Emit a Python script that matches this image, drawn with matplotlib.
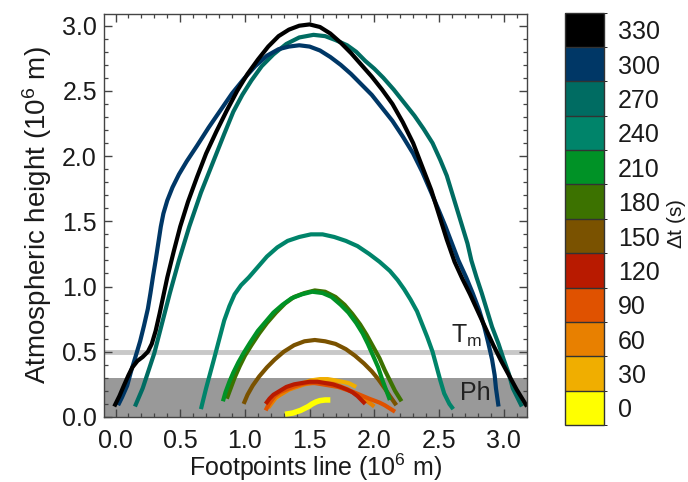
import numpy as np
import matplotlib
matplotlib.use("Agg")
import matplotlib.pyplot as plt
from matplotlib.colors import ListedColormap, BoundaryNorm
from matplotlib.cm import ScalarMappable

plt.rcParams['font.family'] = ['Liberation Sans', 'DejaVu Sans']
plt.rcParams['mathtext.default'] = 'regular'

# ========================
# DATA (units of 10^6 m)
# ========================
dt_values = [0, 30, 60, 90, 120, 150, 180, 210, 240, 270, 300, 330]
dt_colors = ['#FFFF00', '#F0AE00', '#E88000', '#E05200', '#B81A00', '#7A5200',
             '#3C7200', '#009226', '#00846A', '#006C62', '#003766', '#000000']

x_0 = [1.31, 1.34, 1.37, 1.40, 1.43, 1.46, 1.49, 1.52, 1.55, 1.58, 1.62, 1.66]
y_0 = [0.02, 0.025, 0.03, 0.04, 0.05, 0.065, 0.08, 0.10, 0.115, 0.125, 0.13, 0.13]

x_30 = [1.22, 1.27, 1.32, 1.38, 1.45, 1.51, 1.58, 1.64, 1.70, 1.75, 1.80, 1.86]
y_30 = [0.13, 0.17, 0.20, 0.23, 0.26, 0.28, 0.29, 0.29, 0.28, 0.27, 0.26, 0.23]

x_60 = [1.18, 1.21, 1.24, 1.29, 1.34, 1.40, 1.46, 1.52, 1.58, 1.64, 1.70, 1.75,
        1.80, 1.85, 1.90, 1.96, 2.00]
y_60 = [0.07, 0.11, 0.15, 0.18, 0.21, 0.23, 0.25, 0.26, 0.26, 0.26, 0.25, 0.23,
        0.21, 0.18, 0.15, 0.11, 0.08]

x_90 = [1.16, 1.18, 1.20, 1.23, 1.27, 1.32, 1.37, 1.43, 1.48, 1.54, 1.60, 1.66,
        1.72, 1.78, 1.84, 1.90, 1.96, 2.00, 2.04, 2.08, 2.12, 2.16]
y_90 = [0.05, 0.09, 0.12, 0.16, 0.19, 0.21, 0.23, 0.25, 0.26, 0.26, 0.25, 0.24,
        0.23, 0.21, 0.19, 0.165, 0.14, 0.125, 0.11, 0.09, 0.065, 0.04]

x_120 = [1.16, 1.19, 1.22, 1.27, 1.32, 1.38, 1.44, 1.50, 1.56, 1.62, 1.68, 1.74,
         1.79, 1.83, 1.87, 1.90, 1.93]
y_120 = [0.10, 0.14, 0.17, 0.20, 0.23, 0.25, 0.26, 0.27, 0.27, 0.26, 0.25, 0.23,
         0.21, 0.19, 0.16, 0.13, 0.10]

x_150 = [0.99, 1.02, 1.06, 1.11, 1.17, 1.23, 1.30, 1.38, 1.46, 1.54, 1.62, 1.70,
         1.78, 1.85, 1.92, 1.98, 2.03, 2.08, 2.12, 2.17]
y_150 = [0.10, 0.17, 0.24, 0.31, 0.38, 0.44, 0.50, 0.55, 0.58, 0.59, 0.58, 0.56,
         0.52, 0.47, 0.41, 0.35, 0.29, 0.22, 0.16, 0.09]

x_180 = [0.86, 0.89, 0.92, 0.96, 1.00, 1.05, 1.11, 1.17, 1.24, 1.31, 1.38, 1.46,
         1.54, 1.62, 1.70, 1.77, 1.83, 1.89, 1.94, 1.99, 2.04, 2.08, 2.12, 2.16, 2.21]
y_180 = [0.14, 0.22, 0.30, 0.39, 0.47, 0.55, 0.64, 0.72, 0.80, 0.87, 0.92, 0.95,
         0.97, 0.96, 0.92, 0.86, 0.79, 0.71, 0.63, 0.54, 0.45, 0.36, 0.28, 0.20, 0.12]

x_210 = [0.83, 0.85, 0.88, 0.91, 0.95, 0.99, 1.04, 1.10, 1.16, 1.22, 1.29, 1.36,
         1.44, 1.52, 1.60, 1.67, 1.74, 1.80, 1.86, 1.91, 1.95, 1.99, 2.03, 2.06,
         2.09, 2.12]
y_210 = [0.12, 0.19, 0.27, 0.34, 0.42, 0.49, 0.57, 0.66, 0.73, 0.80, 0.86, 0.91,
         0.94, 0.96, 0.95, 0.92, 0.86, 0.80, 0.72, 0.64, 0.56, 0.47, 0.38, 0.29,
         0.21, 0.13]

x_240 = [0.66, 0.68, 0.70, 0.73, 0.76, 0.80, 0.84, 0.88, 0.92, 0.97, 1.03, 1.10,
         1.17, 1.25, 1.33, 1.42, 1.51, 1.60, 1.69, 1.78, 1.87, 1.96, 2.04, 2.12,
         2.18, 2.23, 2.28, 2.33, 2.37, 2.41, 2.45, 2.48, 2.51, 2.54, 2.58, 2.61]
y_240 = [0.06, 0.14, 0.22, 0.33, 0.44, 0.59, 0.74, 0.85, 0.94, 1.01, 1.07, 1.15,
         1.23, 1.30, 1.35, 1.38, 1.40, 1.40, 1.38, 1.35, 1.31, 1.25, 1.19, 1.12,
         1.05, 0.98, 0.90, 0.81, 0.71, 0.61, 0.50, 0.39, 0.28, 0.18, 0.10, 0.06]

x_270 = [0.15, 0.18, 0.21, 0.25, 0.30, 0.36, 0.42, 0.49, 0.57, 0.66, 0.76, 0.84,
         0.91, 0.98, 1.05, 1.13, 1.22, 1.32, 1.42, 1.53, 1.62, 1.70, 1.79, 1.86,
         1.93, 2.00, 2.07, 2.15, 2.23, 2.31, 2.38, 2.45, 2.51, 2.56, 2.60, 2.64,
         2.68, 2.72, 2.75, 2.79, 2.83, 2.87, 2.91, 2.96, 3.00, 3.04, 3.07, 3.11, 3.14]
y_270 = [0.08, 0.15, 0.22, 0.34, 0.49, 0.72, 0.95, 1.20, 1.46, 1.72, 1.97, 2.17,
         2.34, 2.47, 2.58, 2.69, 2.78, 2.86, 2.91, 2.93, 2.92, 2.89, 2.85, 2.80,
         2.73, 2.67, 2.60, 2.51, 2.41, 2.31, 2.21, 2.10, 1.97, 1.85, 1.72, 1.59,
         1.46, 1.33, 1.20, 1.07, 0.95, 0.82, 0.69, 0.56, 0.44, 0.33, 0.22, 0.14, 0.08]

x_300 = [0.02, 0.05, 0.09, 0.12, 0.16, 0.19, 0.22, 0.25, 0.27, 0.29, 0.31, 0.33,
         0.35, 0.37, 0.40, 0.44, 0.49, 0.55, 0.63, 0.72, 0.81, 0.90, 0.99, 1.08,
         1.17, 1.26, 1.34, 1.42, 1.50, 1.58, 1.66, 1.74, 1.82, 1.90, 1.98, 2.06,
         2.14, 2.22, 2.30, 2.37, 2.44, 2.50, 2.55, 2.60, 2.65, 2.71, 2.76, 2.81,
         2.85, 2.88, 2.91, 2.93, 2.94, 2.96]
y_300 = [0.09, 0.15, 0.24, 0.35, 0.48, 0.58, 0.70, 0.83, 0.95, 1.08, 1.20, 1.33,
         1.46, 1.56, 1.66, 1.76, 1.86, 1.96, 2.08, 2.22, 2.35, 2.48, 2.59, 2.69,
         2.77, 2.82, 2.84, 2.85, 2.84, 2.81, 2.76, 2.70, 2.63, 2.55, 2.47, 2.37,
         2.27, 2.15, 2.02, 1.88, 1.72, 1.58, 1.46, 1.33, 1.20, 1.07, 0.95, 0.82,
         0.69, 0.57, 0.44, 0.32, 0.22, 0.08]

x_330 = [-0.01, 0.03, 0.06, 0.10, 0.13, 0.17, 0.21, 0.25, 0.28, 0.31, 0.34, 0.37,
         0.40, 0.45, 0.50, 0.56, 0.63, 0.70, 0.78, 0.86, 0.94, 1.02, 1.10, 1.18,
         1.26, 1.34, 1.42, 1.50, 1.58, 1.66, 1.74, 1.82, 1.90, 1.98, 2.06, 2.14,
         2.22, 2.30, 2.37, 2.44, 2.50, 2.56, 2.62, 2.68, 2.74, 2.80, 2.86, 2.92,
         2.98, 3.04, 3.10, 3.18]
y_330 = [0.08, 0.16, 0.23, 0.32, 0.38, 0.43, 0.46, 0.50, 0.56, 0.66, 0.79, 0.93,
         1.07, 1.27, 1.46, 1.65, 1.84, 2.02, 2.19, 2.35, 2.50, 2.63, 2.74, 2.84,
         2.92, 2.97, 3.00, 3.01, 2.99, 2.94, 2.87, 2.79, 2.70, 2.61, 2.51, 2.40,
         2.26, 2.10, 1.92, 1.74, 1.55, 1.36, 1.19, 1.06, 0.94, 0.81, 0.68, 0.55,
         0.43, 0.32, 0.21, 0.08]

loops = [(x_0, y_0), (x_30, y_30), (x_60, y_60), (x_90, y_90), (x_120, y_120),
         (x_150, y_150), (x_180, y_180), (x_210, y_210), (x_240, y_240),
         (x_270, y_270), (x_300, y_300), (x_330, y_330)]

ph_top = 0.3
tm_height = 0.5

# ========================
# PLOT
# ========================
fig = plt.figure(figsize=(6.88, 4.82), dpi=100)
ax = fig.add_axes([0.151, 0.135, 0.615, 0.836])

ax.axhspan(-0.1, ph_top, color='#999999', lw=0, zorder=0)
ax.axhline(tm_height, color='#C8C8C8', lw=3.5, zorder=1)

for (xs, ys), c in zip(loops, dt_colors):
    lw = 4.0 if c == '#FFFF00' else 3.0
    ax.plot(xs, ys, color=c, lw=lw, solid_capstyle='butt',
            solid_joinstyle='round', zorder=2)

ax.text(2.59, 0.52, r'T$_{m}$', fontsize=18, color='#222222', va='bottom', zorder=3)
ax.text(2.66, 0.18, 'Ph', fontsize=18, color='#222222', va='center', zorder=3)

ax.set_xlim(-0.09, 3.18)
ax.set_ylim(0.0, 3.09)
ax.set_xticks(np.arange(0, 3.01, 0.5))
ax.set_yticks(np.arange(0, 3.01, 0.5))
ax.set_xticks(np.arange(0, 3.15, 0.1), minor=True)
ax.set_yticks(np.arange(0, 3.05, 0.1), minor=True)
ax.xaxis.set_major_formatter(plt.FormatStrFormatter('%.1f'))
ax.yaxis.set_major_formatter(plt.FormatStrFormatter('%.1f'))
ax.tick_params(which='both', direction='in', top=True, right=True,
               color='#444444', labelsize=18, labelcolor='#1a1a1a')
ax.tick_params(which='major', length=6, width=1.0)
ax.tick_params(which='minor', length=3, width=0.9)
ax.tick_params(axis='x', which='major', pad=9)
ax.tick_params(axis='y', which='major', pad=5)
for s in ax.spines.values():
    s.set_color('#444444')
    s.set_linewidth(1.0)

ax.set_xlabel(r'Footpoints line (10$^6$ m)', fontsize=18, color='#1a1a1a')
ax.xaxis.set_label_coords(0.5, -0.087)
ax.set_ylabel(r'Atmospheric height (10$^6$ m)', fontsize=20, color='#1a1a1a', labelpad=6)

# colorbar
bounds = np.arange(-15, 346, 30)
cmap = ListedColormap(dt_colors)
norm = BoundaryNorm(bounds, cmap.N)
cax = fig.add_axes([0.821, 0.118, 0.057, 0.856])
cb = fig.colorbar(ScalarMappable(norm=norm, cmap=cmap), cax=cax,
                  ticks=dt_values, drawedges=True)
cb.outline.set_edgecolor('#333333')
cb.outline.set_linewidth(1.0)
cb.dividers.set_color('#333333')
cb.dividers.set_linewidth(1.0)
cb.ax.tick_params(length=0, labelsize=18, pad=10, labelcolor='#1a1a1a')
fig.text(0.984, 0.535, r'$\Delta$t (s)', fontsize=15, color='#1a1a1a',
         rotation=90, ha='center', va='center')

fig.savefig('out.png', dpi=100)
